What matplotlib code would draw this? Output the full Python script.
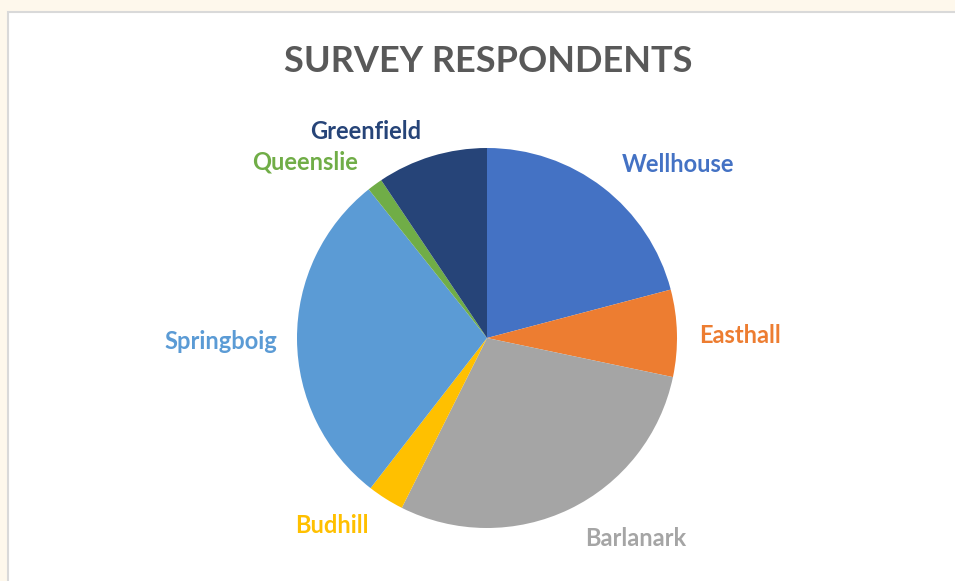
import numpy as np
import matplotlib.pyplot as plt
from matplotlib.patches import Rectangle

# Datos
areas = ['Wellhouse', 'Easthall', 'Barlanark', 'Budhill', 'Springboig', 'Queenslie', 'Greenfield']
respuestas = [20.9, 7.4, 29.1, 3.1, 28.8, 1.3, 9.4]
colores = ['#4472C4', '#ED7D31', '#A5A5A5', '#FFC000', '#5B9BD5', '#70AD47', '#264478']

# posiciones de etiquetas (en radios desde el centro)
pos_etiquetas = [(1.005, 0.915), (1.332, 0.011), (0.784, -1.057), (-0.816, -0.989),
                 (-1.40, -0.021), (-0.958, 0.927), (-0.637, 1.085)]

plt.rcParams['font.family'] = ['Lato', 'DejaVu Sans']

W, H = 955, 581
fig = plt.figure(figsize=(W / 100, H / 100), dpi=100)
fig.patch.set_facecolor('#FEF8EC')

# area del grafico (blanca con borde gris)
fig.patches.append(Rectangle((8 / W, -0.1), 1.2, (H - 12) / H + 0.1,
                             transform=fig.transFigure, facecolor='white',
                             edgecolor='#D9D9D9', linewidth=1.5, zorder=-1))

cx, cy, r = 487, 338, 190
ax = fig.add_axes([(cx - r) / W, (H - cy - r) / H, 2 * r / W, 2 * r / H])
ax.pie(respuestas, colors=colores, startangle=90, counterclock=False, radius=1,
       center=(0, 0), wedgeprops=dict(linewidth=0), frame=False)
ax.set_xlim(-1, 1)
ax.set_ylim(-1, 1)
ax.set_aspect('equal')
ax.axis('off')

for nombre, color, (px, py) in zip(areas, colores, pos_etiquetas):
    ax.text(px, py, nombre, color=color, fontsize=17, fontweight='bold',
            ha='center', va='center', clip_on=False)

fig.text(488 / W, 1 - 61 / H, 'SURVEY RESPONDENTS', color='#595959', fontsize=26,
         fontweight='bold', ha='center', va='center')

fig.savefig('out.png', dpi=100, facecolor=fig.get_facecolor())
